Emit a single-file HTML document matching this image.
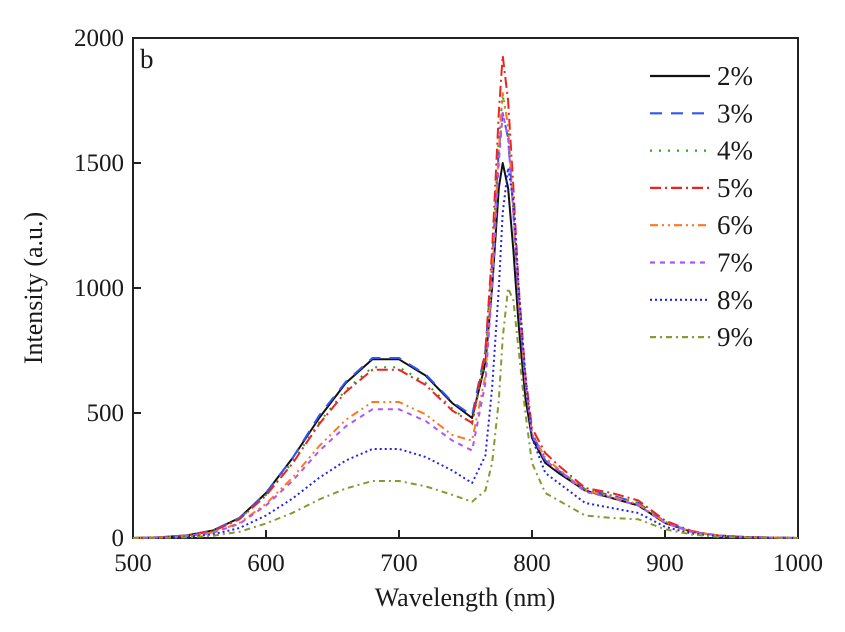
<!DOCTYPE html>
<html><head><meta charset="utf-8"><style>
body{margin:0;background:#fff}
svg text{font-family:"Liberation Serif",serif;fill:#1a1a1a}
</style></head><body>
<svg id="chart" width="845" height="627" xmlns="http://www.w3.org/2000/svg">
<rect x="133" y="38" width="665" height="500" fill="none" stroke="#222" stroke-width="2"/>
<g id="ticks"></g><g id="series"></g><g id="legend"></g>
<text x="140" y="68" font-size="27">b</text>
<text x="465" y="606" font-size="26" text-anchor="middle">Wavelength (nm)</text>
<text transform="translate(42,288) rotate(-90)" font-size="26" text-anchor="middle">Intensity (a.u.)</text>
</svg>
<script>
const wavelengths=[500,520,540,560,580,600,620,640,660,680,700,720,740,755,765,770,775,778,782,786,790,795,800,810,820,840,860,880,900,920,940,960,1000];
const s2=[0,3,10,30,80,180,320,480,620,715,715,650,540,480,700,1000,1400,1500,1400,1150,850,560,400,300,260,190,160,130,60,25,10,4,0];
const s3=[0,3,10,30,80,180,320,490,625,720,720,655,545,490,750,1100,1550,1700,1600,1300,950,620,420,310,270,195,170,140,65,25,10,4,0];
const s4=[0,3,10,28,76,172,304,462,593,683,683,621,518,455,720,1100,1600,1770,1650,1300,950,620,420,320,275,195,170,140,65,25,10,4,0];
const s5=[0,3,10,27,75,170,299,456,585,673,673,612,510,460,750,1150,1700,1930,1750,1400,1000,650,440,340,290,200,180,150,70,28,10,4,0];
const s6=[0,2,8,22,60,137,242,368,473,544,544,495,412,390,650,1050,1550,1780,1650,1300,950,620,420,320,275,190,165,135,62,25,10,4,0];
const s7=[0,2,7,21,57,130,229,348,447,515,515,468,390,350,620,1000,1500,1700,1600,1300,950,620,410,310,270,185,160,130,60,25,10,4,0];
const s8=[0,1,5,14,40,90,158,241,310,356,356,324,270,220,330,600,1000,1300,1480,1350,1000,650,400,260,220,140,120,100,45,18,7,3,0];
const s9=[0,1,3,9,25,58,101,154,198,228,228,207,173,145,190,300,550,800,1000,950,750,500,300,180,150,90,80,75,35,14,5,2,0];
const seriesNames=["2%","3%","4%","5%","6%","7%","8%","9%"];
const xTicks=[500,600,700,800,900,1000];
const yTicks=[0,500,1000,1500,2000];
const NS="http://www.w3.org/2000/svg";
const X=v=>133+(v-500)*665/500;
const Y=v=>538-v*500/2000;
const styles=[["#111","none"],["#3355ee","12,9"],["#22aa22","2,7"],["#ee2222","11,4,2,4"],["#ff7722","8,4,2,4,2,4"],["#aa55ff","5,5"],["#2222ee","2,3"],["#889933","6,4,2,4"]];
const all=[s2,s3,s4,s5,s6,s7,s8,s9];
function mk(t,a,p){const e=document.createElementNS(NS,t);for(const k in a)e.setAttribute(k,a[k]);p.appendChild(e);return e;}
const tg=document.getElementById('ticks');
xTicks.forEach(v=>{
 const l=mk('line',{x1:X(v),x2:X(v),y1:538,y2:530,stroke:'#222','stroke-width':2},tg);
 
 
 const t=mk('text',{x:X(v),y:571,'font-size':25,'text-anchor':'middle'},tg);t.textContent=v;
 
 
});
yTicks.forEach(v=>{
 const l=mk('line',{x1:133,x2:141,y1:Y(v),y2:Y(v),stroke:'#222','stroke-width':2},tg);
 
 
 const t=mk('text',{x:124,y:Y(v)+8,'font-size':25,'text-anchor':'end'},tg);t.textContent=v;
 
 
});
const sg=document.getElementById('series'),lg=document.getElementById('legend');
all.forEach((d,i)=>{
 const pts=d.map((v,j)=>X(wavelengths[j]).toFixed(1)+','+Y(v).toFixed(1)).join(' ');
 const p=mk('polyline',{points:pts,fill:'none',stroke:styles[i][0],'stroke-width':2,'stroke-dasharray':styles[i][1],'stroke-linejoin':'round'},sg);
 
 
 const y=76+i*37.3;
 const l=mk('line',{x1:650,x2:710,y1:y,y2:y,stroke:styles[i][0],'stroke-width':2.2,'stroke-dasharray':styles[i][1]},lg);
 
 
 const t=mk('text',{x:717,y:y+9,'font-size':27},lg);t.textContent=seriesNames[i];
 
 
});
</script>
</body></html>
